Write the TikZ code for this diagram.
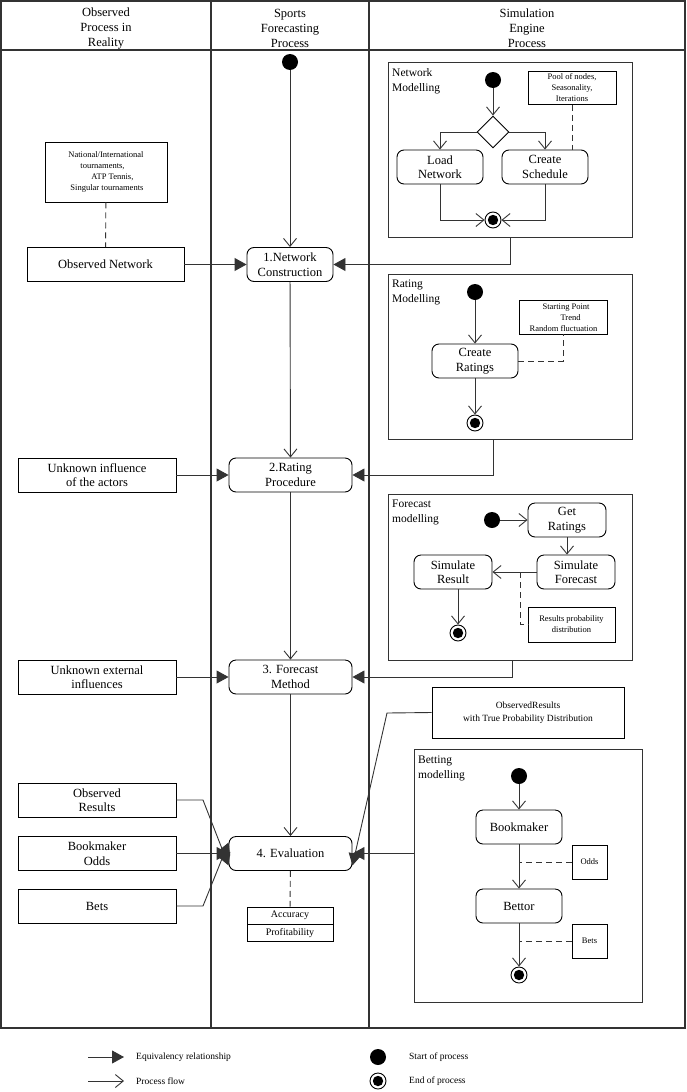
\documentclass[tikz,border=0pt]{standalone}
\usepackage{fontspec}
\setmainfont{Liberation Serif}
\usetikzlibrary{arrows.meta,shapes.geometric}
\definecolor{ln}{HTML}{333333}
\begin{document}
\begin{tikzpicture}[x=1pt,y=-1pt,
  lane/.style={draw=ln,line width=2.2pt},
  hdr/.style={font=\fontsize{12.5}{15}\selectfont,align=center},
  act/.style={draw=black,line width=0.9pt,rounded corners=7pt,font=\fontsize{12.5}{14.5}\selectfont,align=center,inner sep=0pt},
  obs/.style={draw=black,line width=0.9pt,font=\fontsize{12.5}{14.5}\selectfont,align=center,inner sep=0pt},
  note/.style={draw=black,line width=0.9pt,font=\fontsize{8.5}{11}\selectfont,align=center,inner sep=0pt},
  frm/.style={draw=ln,line width=1pt},
  frmlab/.style={font=\fontsize{11.5}{15}\selectfont,align=left,anchor=north west,inner sep=0pt},
  startc/.style={circle,fill=black,minimum size=16pt,inner sep=0pt},
  endc/.style={circle,draw=black,line width=0.9pt,minimum size=16pt,inner sep=0pt,path picture={\fill[black] (path picture bounding box.center) circle (5.2pt);}},
  flow/.style={draw=ln,line width=0.9pt,-{Straight Barb[length=8pt,width=13pt,line width=0.9pt]}},
  equiv/.style={draw=ln,line width=0.9pt,-{Triangle[length=12pt,width=13pt]}},
  dashln/.style={draw=ln,line width=0.9pt,dash pattern=on 6pt off 4pt},
  leg/.style={font=\fontsize{9.5}{11}\selectfont,anchor=west,inner sep=0pt}
]
\useasboundingbox (0,0) rectangle (686,1092);
% lanes
\draw[lane] (1,1) rectangle (685,1028);
\draw[lane] (1,50) -- (685,50);
\draw[lane] (211,1) -- (211,1028);
\draw[lane] (369,1) -- (369,1028);
\node[hdr] (h1) at (106,28.5) {Observed\\Process in\\Reality};
\node[hdr] (h2) at (290,28.5) {Sports\\Forecasting\\Process};
\node[hdr] (h3) at (527,28.5) {Simulation\\Engine\\Process};

% middle lane
\node[startc] (s0) at (290,62) {};
\node[act,minimum width=86pt,minimum height=34pt] (nc) at (290,264.5) {1.Network\\Construction};
\node[act,minimum width=123pt,minimum height=34pt] (rp) at (290.5,475) {2.Rating\\Procedure};
\node[act,minimum width=123pt,minimum height=34pt] (fm) at (290.5,677) {3. Forecast\\Method};
\node[act,minimum width=123pt,minimum height=34pt] (ev) at (290.5,853.5) {4. Evaluation};
\node[draw=black,line width=0.9pt,minimum width=86pt,minimum height=17pt,inner sep=0pt,font=\fontsize{10}{12}\selectfont] (acc) at (290,915.5) {Accuracy};
\node[draw=black,line width=0.9pt,minimum width=86pt,minimum height=17pt,inner sep=0pt,font=\fontsize{10}{12}\selectfont,anchor=north] (prof) at (acc.south) {Profitability};
\draw[flow] (s0) -- (nc);
\draw[flow] (nc) -- (rp);
\draw[flow] (rp) -- (fm);
\draw[flow] (fm) -- (ev);
\draw[dashln] (ev) -- (acc);

% left lane
\node[note,minimum width=122pt,minimum height=60pt,align=left] (natn) at (106,172) {National/International\\\hspace*{12pt}tournaments,\\\hspace*{23pt}ATP Tennis,\\\hspace*{2pt}Singular tournaments};
\node[obs,minimum width=157pt,minimum height=34pt] (on) at (105.5,264.5) {Observed Network};
\node[obs,minimum width=158pt,minimum height=34pt] (ui) at (97,475) {Unknown influence\\of the actors};
\node[obs,minimum width=158pt,minimum height=34pt] (ue) at (97,677) {Unknown external\\influences};
\node[obs,minimum width=158pt,minimum height=34pt] (or) at (97,800) {Observed\\Results};
\node[obs,minimum width=158pt,minimum height=34pt] (bo) at (97,853.5) {Bookmaker\\Odds};
\node[obs,minimum width=158pt,minimum height=34pt] (bt) at (97,906) {Bets};
\draw[dashln] (natn) -- (on);
\draw[equiv] (on) -- (nc);
\draw[equiv] (ui) -- (rp);
\draw[equiv] (ue) -- (fm);
\draw[equiv] (bo) -- (ev);
\coordinate (orb) at (203,800);
\coordinate (btb) at (203,906);
\draw[equiv] (or.east) -- (orb) -- ([shift={(0pt,-12pt)}]ev.west);
\draw[equiv] (bt.east) -- (btb) -- ([shift={(0pt,11pt)}]ev.west);

% right lane: Network modelling
\node[frm,minimum width=244pt,minimum height=175pt,inner sep=0pt] (nmf) at (510,149.5) {};
\node[frmlab] (nml) at (392,68) {Network\\Modelling};
\node[startc] (s1) at (493,80) {};
\node[diamond,draw=black,line width=0.9pt,minimum width=32pt,minimum height=32pt,inner sep=0pt] (dia) at (493,132) {};
\node[act,minimum width=86pt,minimum height=34pt] (ln) at (440,167) {Load\\Network};
\node[act,minimum width=86pt,minimum height=34pt] (cs) at (545,167) {Create\\Schedule};
\node[note,minimum width=88pt,minimum height=33pt] (pool) at (572,88) {Pool of nodes,\\Seasonality,\\Iterations};
\node[endc] (e1) at (493,220) {};
\draw[flow] (s1) -- (dia);
\draw[flow] (dia.west) -| (ln.north);
\draw[flow] (dia.east) -| (cs.north);
\draw[flow] (ln.south) |- (e1.west);
\draw[flow] (cs.south) |- (e1.east);
\draw[dashln] (pool.south) -- (pool.south |- cs.north);
\draw[equiv] (nmf.south) |- (nc.east);

% Rating modelling
\node[frm,minimum width=244pt,minimum height=165pt,inner sep=0pt] (rmf) at (510,356.5) {};
\node[frmlab] (rml) at (392,280) {Rating\\Modelling};
\node[startc] (s2) at (475,292) {};
\node[act,minimum width=86pt,minimum height=34pt] (cr) at (475,361) {Create\\Ratings};
\node[endc] (e2) at (475,423) {};
\node[note,minimum width=88pt,minimum height=34pt,align=left,anchor=north west] (spt) at (519,300) {\hspace*{13pt}Starting Point\\\hspace*{31pt}Trend\\Random fluctuation};
\draw[flow] (s2) -- (cr);
\draw[flow] (cr) -- (e2);
\draw[dashln] (cr.east) -| (563,334);
\draw[equiv] (rmf.south -| 493,0) |- (rp.east);

% Forecast modelling
\node[frm,minimum width=244pt,minimum height=166pt,inner sep=0pt] (fmf) at (510,577) {};
\node[frmlab] (fml) at (392,500) {Forecast\\modelling};
\node[startc] (s3) at (492,520) {};
\node[act,minimum width=78pt,minimum height=34pt] (gr) at (567,520) {Get\\Ratings};
\node[act,minimum width=78pt,minimum height=34pt] (sf) at (576,572) {Simulate\\Forecast};
\node[act,minimum width=78pt,minimum height=34pt] (sr) at (453,572) {Simulate\\Result};
\node[endc] (e3) at (458,633) {};
\node[note,minimum width=87pt,minimum height=35pt] (rpd) at (571.5,624.5) {Results probability\\distribution};
\draw[flow] (s3) -- (gr);
\draw[flow] (gr.south -| 567,0) -- (sf.north -| 567,0);
\draw[flow] (sf) -- (sr);
\draw[flow] (sr.south -| 458,0) -- (e3);
\coordinate (dfk) at (520,572);
\draw[dashln] (dfk) |- (rpd.west);
\draw[equiv] (fmf.south -| 512,0) |- (fm.east);

% Observed results note
\node[note,minimum width=192pt,minimum height=51pt,font=\fontsize{9.5}{13}\selectfont] (otp) at (528,712.5) {ObservedResults\\with True Probability Distribution};
\coordinate (otk) at (387,713);
\draw[equiv] (otp.west) -- (otk) -- ([shift={(0pt,-12pt)}]ev.east);

% Betting modelling
\node[frm,minimum width=228pt,minimum height=253pt,inner sep=0pt] (bmf) at (528,875.5) {};
\node[frmlab] (bml) at (418,756) {Betting\\modelling};
\node[startc] (s4) at (519,776) {};
\node[act,minimum width=86pt,minimum height=34pt] (bk) at (519,827) {Bookmaker};
\node[act,minimum width=86pt,minimum height=34pt] (bet) at (519,906) {Bettor};
\node[endc] (e4) at (519,975) {};
\node[note,minimum width=35pt,minimum height=34pt] (odds) at (589.5,862) {Odds};
\node[note,minimum width=35pt,minimum height=34pt] (bets) at (589.5,941) {Bets};
\draw[flow] (s4) -- (bk);
\draw[flow] (bk) -- (bet);
\draw[flow] (bet) -- (e4);
\draw[dashln] (odds.west) -- (odds.west -| bk.south);
\draw[dashln] (bets.west) -- (bets.west -| bet.south);
\draw[equiv] (bmf.west |- ev.east) -- (ev.east);

% legend
\coordinate (la1) at (88,1057);
\coordinate (la2) at (124,1057);
\coordinate (lb1) at (88,1081);
\coordinate (lb2) at (124,1081);
\draw[equiv] (la1) -- (la2);
\draw[flow] (lb1) -- (lb2);
\node[leg] (lt1) at (136,1057) {Equivalency relationship};
\node[leg] (lt2) at (136,1081) {Process flow};
\node[startc] (ls) at (378,1057) {};
\node[endc] (le) at (378,1081) {};
\node[leg] (lt3) at (409,1057) {Start of process};
\node[leg] (lt4) at (409,1081) {End of process};
\end{tikzpicture}
\end{document}
